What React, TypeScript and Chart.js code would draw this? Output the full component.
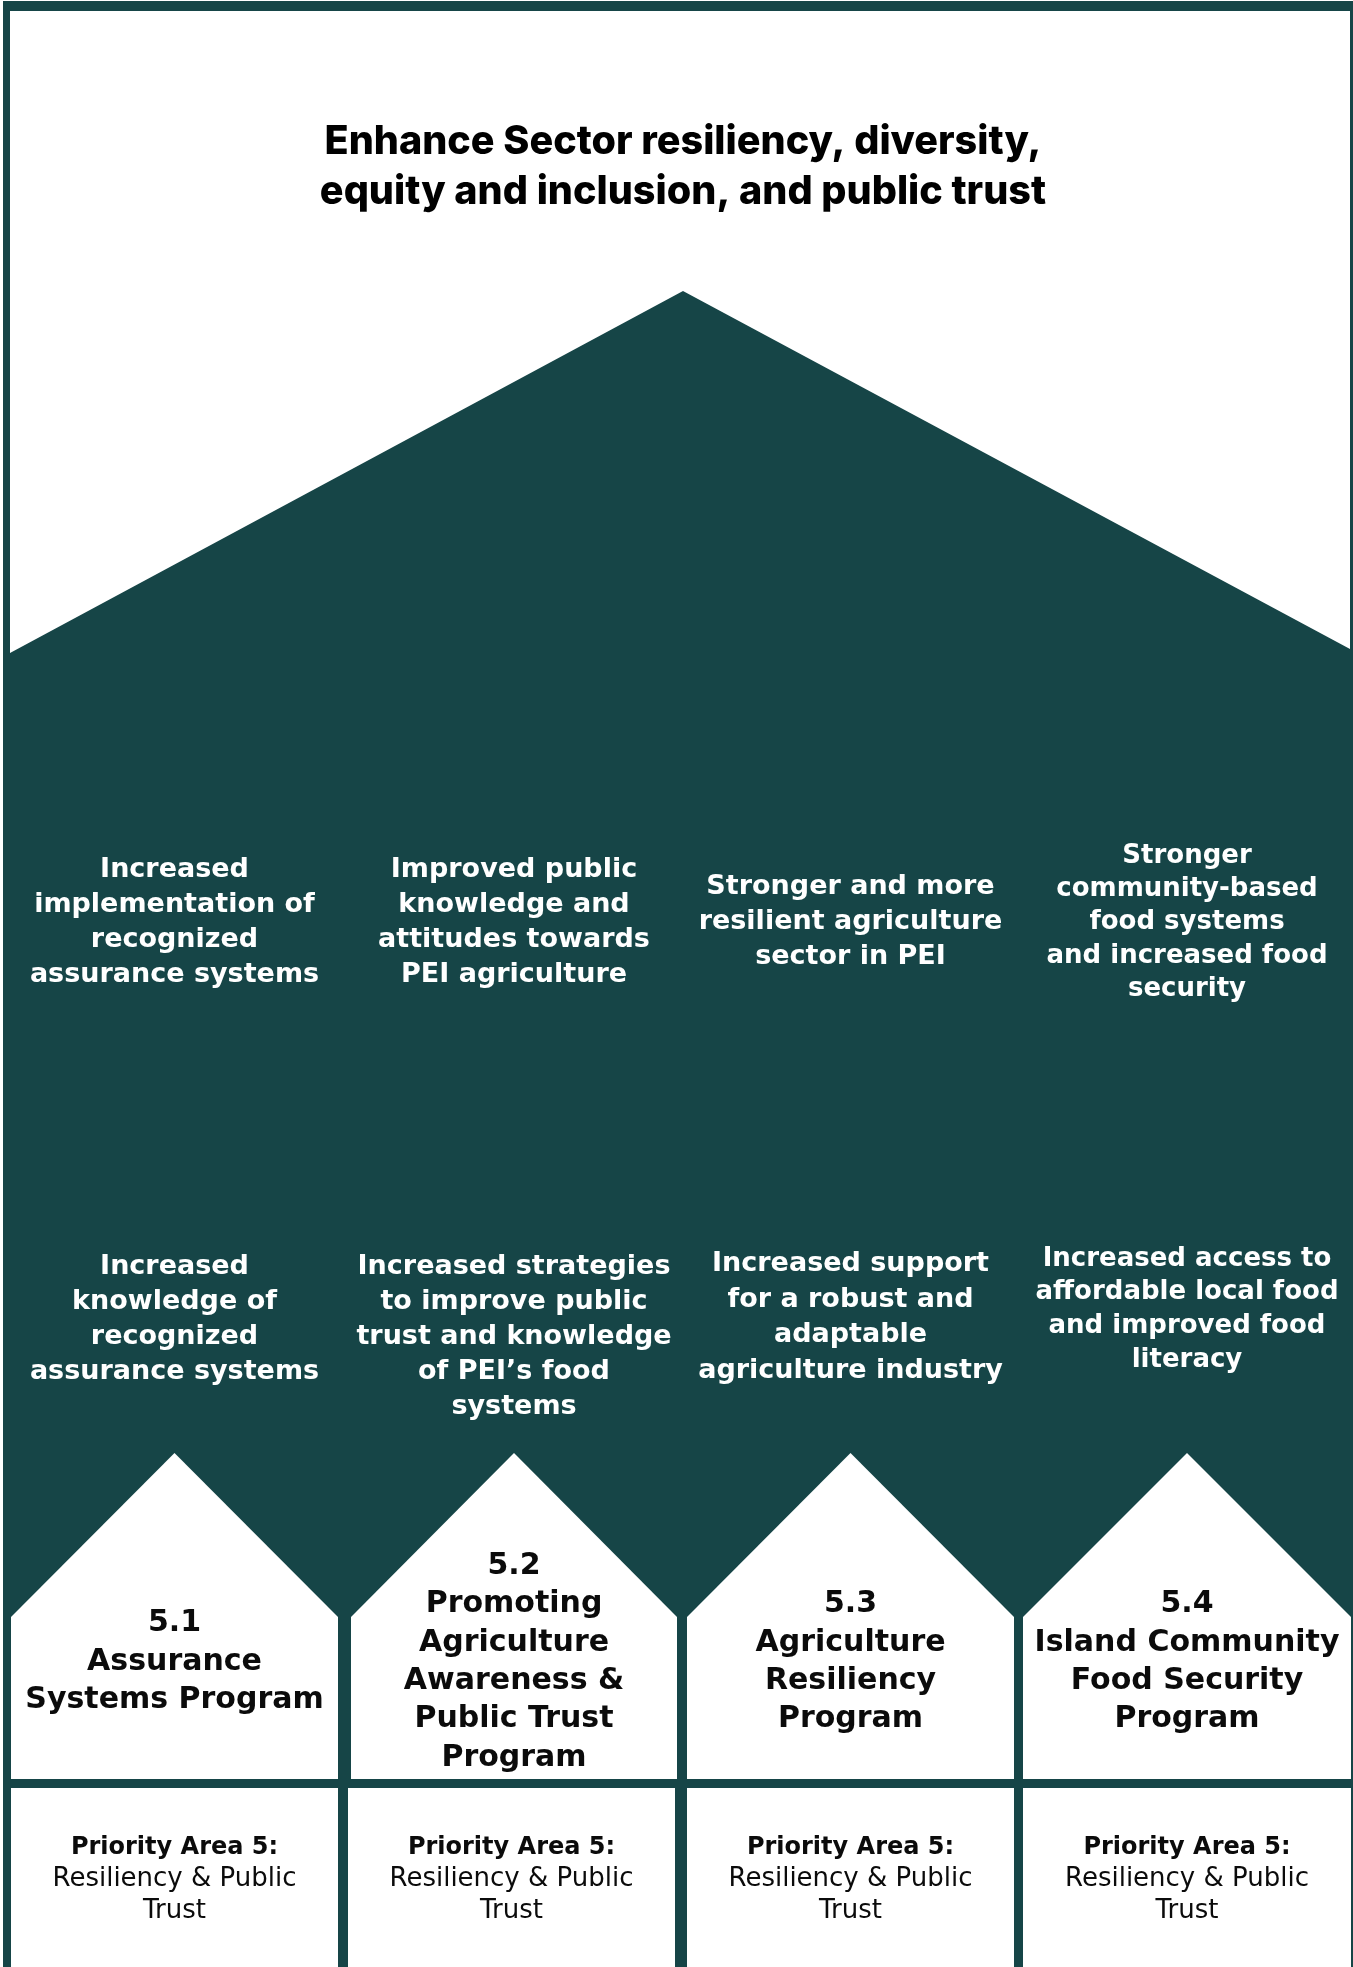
import React, { useEffect, useRef } from "react";
import { Chart, registerables } from "chart.js";

Chart.register(...registerables);

// ---------- text content ----------
const titleLines = [
  "Enhance Sector resiliency, diversity,",
  "equity and inclusion, and public trust",
];

const outcomeLines = [
  ["Increased", "implementation of", "recognized", "assurance systems"],
  ["Improved public", "knowledge and", "attitudes towards", "PEI agriculture"],
  ["Stronger and more", "resilient agriculture", "sector in PEI"],
  ["Stronger", "community-based", "food systems", "and increased food", "security"],
];

const intermediateLines = [
  ["Increased", "knowledge of", "recognized", "assurance systems"],
  ["Increased strategies", "to improve public", "trust and knowledge", "of PEI\u2019s food", "systems"],
  ["Increased support", "for a robust and", "adaptable", "agriculture industry"],
  ["Increased access to", "affordable local food", "and improved food", "literacy"],
];

const programCodes = ["5.1", "5.2", "5.3", "5.4"];

const programNames = [
  ["Assurance", "Systems Program"],
  ["Promoting", "Agriculture", "Awareness &", "Public Trust", "Program"],
  ["Agriculture", "Resiliency", "Program"],
  ["Island Community", "Food Security", "Program"],
];

const priorityHeadings = ["Priority Area 5:", "Priority Area 5:", "Priority Area 5:", "Priority Area 5:"];
const priorityNames = [
  ["Resiliency & Public", "Trust"],
  ["Resiliency & Public", "Trust"],
  ["Resiliency & Public", "Trust"],
  ["Resiliency & Public", "Trust"],
];

// ---------- diagram geometry (diagram units) ----------
const frameXs = [3, 1353];
const frameTop = 1;
const frameBottom = 1967;

const roofXs = [10, 683, 1350];
const roofYs = [653, 291, 649];
const skyTop = 11;

const houseLefts = [11, 351, 687, 1023];
const houseRights = [338, 677, 1014, 1351];
const housePeakY = 1453;
const houseEaveY = 1617;
const houseBaseY = 1779;

const boxLefts = [11, 348, 687, 1023];
const boxRights = [338, 675, 1014, 1351];
const boxTopY = 1788;

// ---------- text layout ----------
const W = 1353;
const H = 1967;
const DARK = "#164547";
const titleCenterX = 683;
const titleWidth = 717;
const titleBaselines = [154, 204];
const textShift = 4;
const outcomeFirstY = [866, 866, 883, 852];
const outcomeStep = [35, 35, 35, 33.3];
const outcomeSize = [27, 27, 27, 26];
const intermediateFirstY = [1263, 1263, 1260, 1255];
const intermediateStep = [35, 35, 35.5, 33.7];
const intermediateSize = [27, 27, 27, 26];
const programCenterY = 1658;
const programStep = 38.3;
const priorityFirstY = 1844;
const priorityStep = 31.5;

const textPlugin = {
  id: "diagramText",
  afterDatasetsDraw(chart: any) {
    const { ctx } = chart;
    const xs = chart.scales.x;
    const ys = chart.scales.y;
    const px = (v: number) => xs.getPixelForValue(v);
    const py = (v: number) => ys.getPixelForValue(v);
    const centers = houseLefts.map((l, i) => (l + houseRights[i]) / 2);
    const boxCenters = boxLefts.map((l, i) => (l + boxRights[i]) / 2);

    ctx.save();
    ctx.textAlign = "center";

    // title (condensed grotesque look)
    ctx.fillStyle = "#000000";
    ctx.textBaseline = "alphabetic";
    ctx.font = '800 40px Inter, "DejaVu Sans", sans-serif';
    const natural = ctx.measureText(titleLines[0]).width;
    const sx = (px(titleCenterX + titleWidth / 2) - px(titleCenterX - titleWidth / 2)) / natural;
    titleLines.forEach((line, i) => {
      ctx.save();
      ctx.translate(px(titleCenterX), py(titleBaselines[i]));
      ctx.scale(sx, 1);
      ctx.fillText(line, 0, 0);
      ctx.restore();
    });

    // outcomes (white)
    ctx.fillStyle = "#ffffff";
    ctx.textBaseline = "middle";
    outcomeLines.forEach((lines, c) => {
      ctx.font = `700 ${outcomeSize[c]}px "DejaVu Sans", sans-serif`;
      lines.forEach((line, i) => {
        ctx.fillText(line, px(centers[c]), py(outcomeFirstY[c] + i * outcomeStep[c] + textShift));
      });
    });
    intermediateLines.forEach((lines, c) => {
      ctx.font = `700 ${intermediateSize[c]}px "DejaVu Sans", sans-serif`;
      lines.forEach((line, i) => {
        ctx.fillText(line, px(centers[c]), py(intermediateFirstY[c] + i * intermediateStep[c] + textShift));
      });
    });

    // programs (black)
    ctx.fillStyle = "#0b0b0b";
    ctx.font = '700 30px "DejaVu Sans", sans-serif';
    programNames.forEach((names, c) => {
      const lines = [programCodes[c], ...names];
      const start = programCenterY - ((lines.length - 1) * programStep) / 2;
      lines.forEach((line, i) => {
        ctx.fillText(line, px(centers[c]), py(start + i * programStep + textShift));
      });
    });

    // priority areas
    priorityHeadings.forEach((head, c) => {
      ctx.font = '700 24px "DejaVu Sans", sans-serif';
      ctx.fillText(head, px(boxCenters[c]), py(priorityFirstY + textShift));
      ctx.font = '400 26px "DejaVu Sans", sans-serif';
      priorityNames[c].forEach((line, i) => {
        ctx.fillText(line, px(boxCenters[c]), py(priorityFirstY + (i + 1) * priorityStep + textShift));
      });
    });

    ctx.restore();
  },
};

function shape(points: { x: number; y: number }[], fillTo: number, color: string, order: number) {
  return {
    type: "line" as const,
    data: points,
    fill: { value: fillTo },
    backgroundColor: color,
    borderColor: "rgba(0,0,0,0)",
    borderWidth: 0,
    pointRadius: 0,
    pointHoverRadius: 0,
    tension: 0,
    order,
  };
}

export default function App() {
  const ref = useRef<HTMLCanvasElement>(null);

  useEffect(() => {
    document.body.style.margin = "0";
    document.body.style.background = "#ffffff";

    const datasets: any[] = [];
    datasets.push(shape(frameXs.map((x) => ({ x, y: frameTop })), frameBottom, DARK, 5));
    datasets.push(shape(roofXs.map((x, i) => ({ x, y: roofYs[i] })), skyTop, "#ffffff", 1));
    houseLefts.forEach((l, i) => {
      const r = houseRights[i];
      datasets.push(
        shape(
          [
            { x: l, y: houseEaveY },
            { x: (l + r) / 2, y: housePeakY },
            { x: r, y: houseEaveY },
          ],
          houseBaseY,
          "#ffffff",
          1
        )
      );
    });
    boxLefts.forEach((l, i) => {
      datasets.push(
        shape(
          [
            { x: l, y: boxTopY },
            { x: boxRights[i], y: boxTopY },
          ],
          frameBottom,
          "#ffffff",
          1
        )
      );
    });

    const chart = new Chart(ref.current as HTMLCanvasElement, {
      type: "line",
      data: { datasets },
      options: {
        animation: false,
        responsive: true,
        maintainAspectRatio: false,
        layout: { padding: 0 },
        events: [],
        scales: {
          x: { type: "linear", min: 0, max: W, display: false },
          y: { type: "linear", min: 0, max: H, reverse: true, display: false },
        },
        plugins: {
          legend: { display: false },
          tooltip: { enabled: false },
        },
      },
      plugins: [textPlugin],
    } as any);
    return () => chart.destroy();
  }, []);

  return (
    <div style={{ position: "relative", width: W, height: H }}>
      <canvas ref={ref} />
    </div>
  );
}
